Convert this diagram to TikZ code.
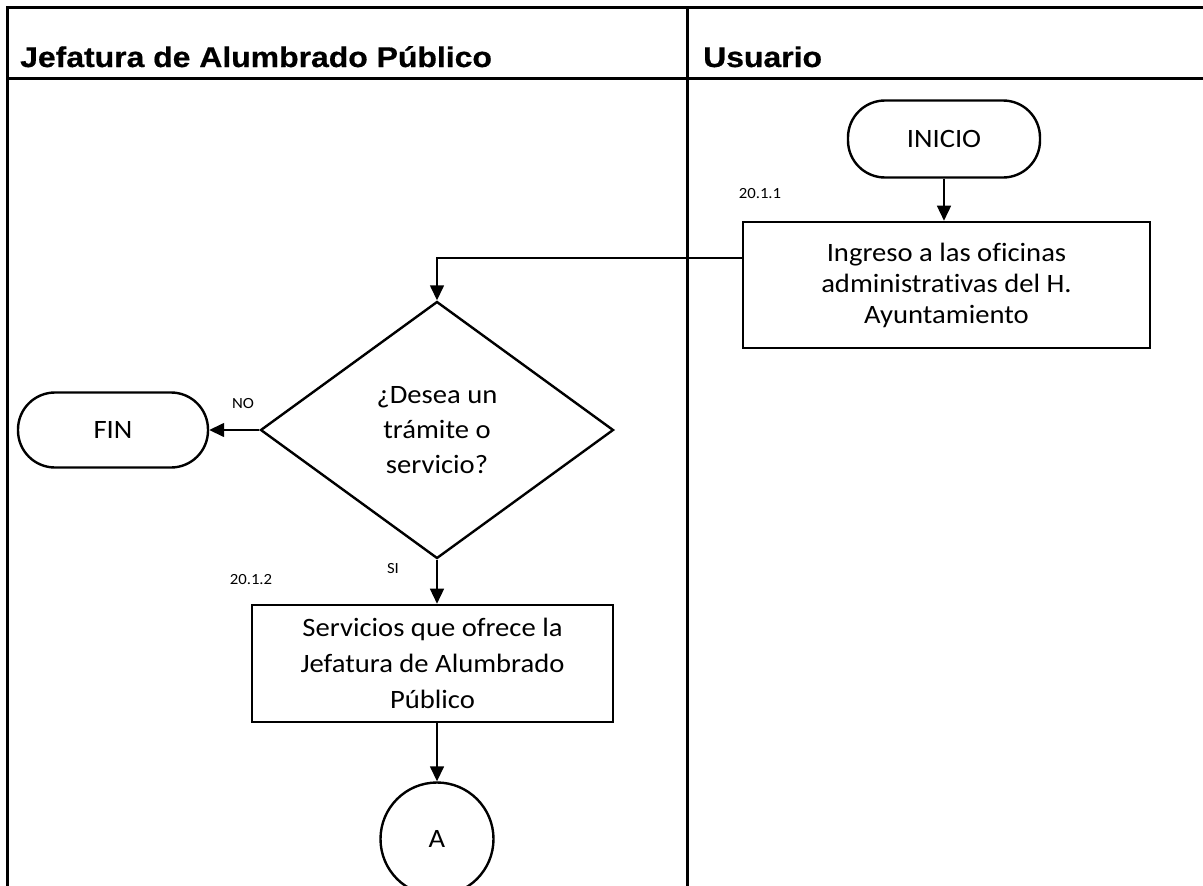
\documentclass[tikz,border=0pt]{standalone}
\usepackage{fontspec}
\setmainfont{Carlito}[FakeStretch=1.08, Ligatures=NoCommon]
\newfontfamily\hdrfont{Liberation Sans}[FakeStretch=1.12, FakeBold=0.6]
\usetikzlibrary{shapes.geometric,arrows.meta}
\begin{document}
\begin{tikzpicture}[x=1pt,y=-1pt,
  lane/.style={line width=3pt},
  hdr/.style={font=\hdrfont\bfseries\fontsize{28.5}{32}\selectfont, anchor=base west, inner sep=0pt},
  proc/.style={draw, line width=2.6pt, align=center, inner sep=0pt},
  term/.style={draw, line width=2.4pt, rounded corners=37pt, inner sep=0pt},
  dec/.style={draw, diamond, line width=2.4pt, align=center, inner sep=0pt},
  con/.style={draw, circle, line width=2.4pt, inner sep=0pt},
  txt/.style={font=\fontsize{26.5}{35}\selectfont},
  small/.style={font=\fontsize{15.5}{17}\selectfont, inner sep=0pt},
  arr/.style={line width=1.5pt, -{Triangle[length=15pt,width=14pt]}}
]
\useasboundingbox (0,0) rectangle (1203,886);
\clip (0,0) rectangle (1203,886);
% swimlane table
\draw[lane] (7,886) -- (7,7) -- (1210,7);
\draw[lane] (7,78) -- (1210,78);
\draw[lane] (687,7) -- (687,886);
\node[hdr] (h1) at (20,67) {Jefatura de Alumbrado Público};
\node[hdr] (h2) at (703,67) {Usuario};
% nodes
\node[term, txt, minimum width=192pt, minimum height=77pt] (ini) at (944,139) {INICIO};
\node[proc, txt, font=\fontsize{26.5}{31}\selectfont, minimum width=407pt, minimum height=126pt] (b1) at (946.5,285) {Ingreso a las oficinas\\administrativas del H.\\Ayuntamiento};
\node[small] (l1) at (760,194) {20.1.1};
\node[dec, txt, minimum width=353pt, minimum height=257pt, aspect=1.37] (dec) at (437,430) {¿Desea un\\trámite o\\servicio?};
\node[term, txt, minimum width=190pt, minimum height=75pt] (fin) at (113,430) {FIN};
\node[small] (no) at (243,404) {NO};
\node[small] (si) at (393,569) {SI};
\node[small] (l2) at (251,580) {20.1.2};
\node[proc, txt, font=\fontsize{26.5}{36}\selectfont, minimum width=361pt, minimum height=117pt] (b2) at (432.5,663.5) {Servicios que ofrece la\\Jefatura de Alumbrado\\Público};
\node[con, txt, minimum size=113pt] (a) at (437,839) {A};
% connectors
\draw[arr] (ini.south) -- (ini.south |- b1.north);
\draw[arr] ([yshift=27pt]b1.west) -| (dec.north);
\draw[arr] (dec.west) -- (fin.east);
\draw[arr] (dec.south) -- (dec.south |- b2.north);
\draw[arr] (dec.south |- b2.south) -- (a.north);
\end{tikzpicture}
\end{document}
